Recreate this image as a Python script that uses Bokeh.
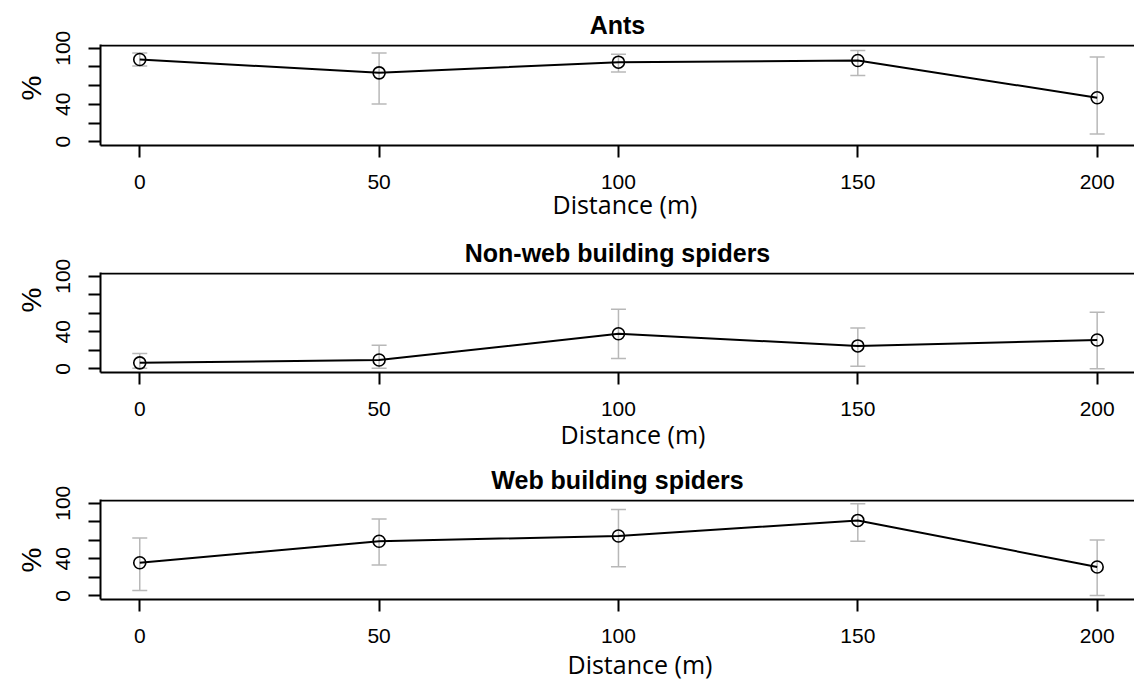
from bokeh.plotting import figure
from bokeh.models import ColumnDataSource, Whisker, TeeHead, FixedTicker, Title, Span
from bokeh.layouts import column
from bokeh.embed import file_html
from bokeh.resources import INLINE

# Distance from edge (m)
distance = [0, 50, 100, 150, 200]

# Ants (% of samples), mean with interval bounds
ants_mean = [88.0, 73.7, 85.1, 86.9, 47.1]
ants_upper = [95.0, 95.0, 93.6, 97.6, 90.7]
ants_lower = [81.0, 40.4, 74.5, 70.9, 8.2]

# Non-web building spiders
nonweb_mean = [6.4, 9.5, 37.8, 24.7, 31.1]
nonweb_upper = [16.6, 25.4, 64.3, 44.1, 61.1]
nonweb_lower = [0.7, 0.6, 11.2, 2.8, 0.0]

# Web building spiders
web_mean = [35.7, 58.9, 64.6, 81.4, 31.1]
web_upper = [62.5, 82.9, 93.1, 99.4, 60.3]
web_lower = [5.7, 33.2, 31.4, 58.9, 0.3]

titles = ["Ants", "Non-web building spiders", "Web building spiders"]
y_ticks = [0, 20, 40, 60, 80, 100]
x_ticks = [0, 50, 100, 150, 200]

W = 1134
FRAME_LEFT = 100
X_START, X_END = -8.2, 207.8
Y_START, Y_END = -4.0, 104.0

ARIAL = "Liberation Sans"
BODY = "Open Sans"

# panel geometry: figure height, top/bottom borders,
# offset of "%" from the frame bottom, offset of "Distance (m)" from the frame left
panels = [
    dict(h=228, top=44, bottom=83, pct_off=45, dist_off=452, dist_gap=-13),
    dict(h=227, top=44, bottom=83, pct_off=60, dist_off=460, dist_gap=-7),
    dict(h=232, top=44, bottom=88, pct_off=27, dist_off=467, dist_gap=-2),
]
series = [
    (ants_mean, ants_upper, ants_lower),
    (nonweb_mean, nonweb_upper, nonweb_lower),
    (web_mean, web_upper, web_lower),
]

figs = []
for title, (mean, upper, lower), g in zip(titles, series, panels):
    frame_h = g["h"] - g["top"] - g["bottom"]
    p = figure(width=W, height=g["h"], x_range=(X_START, X_END), y_range=(Y_START, Y_END),
               output_backend="svg", toolbar_location=None,
               min_border_left=FRAME_LEFT, min_border_right=0,
               min_border_top=g["top"], min_border_bottom=g["bottom"])
    p.outline_line_color = None
    p.background_fill_color = "white"
    p.border_fill_color = "white"
    p.grid.visible = False

    for ax in (p.xaxis[0], p.yaxis[0]):
        ax.axis_line_width = 2
        ax.axis_line_color = "black"
        ax.major_tick_line_width = 2
        ax.major_tick_line_color = "black"
        ax.major_tick_out = 12
        ax.major_tick_in = 0
        ax.minor_tick_line_color = None
        ax.minor_tick_out = 0
        ax.major_label_text_font = ARIAL
        ax.major_label_text_font_size = "21px"
        ax.major_label_text_color = "black"

    p.xaxis.ticker = FixedTicker(ticks=x_ticks)
    p.xaxis.major_label_standoff = 17
    p.yaxis.ticker = FixedTicker(ticks=y_ticks)
    p.yaxis.major_label_overrides = {20: "", 60: "", 80: ""}
    p.yaxis.major_label_orientation = "vertical"
    p.yaxis.major_label_standoff = 18

    # top edge of the box, kept one pixel inside the frame
    p.add_layout(Span(location=Y_END - (Y_END - Y_START) / frame_h, dimension="width",
                      line_color="black", line_width=2))

    src = ColumnDataSource(dict(x=distance, mean=mean, upper=upper, lower=lower))
    grey = "#b8b8b8"
    p.add_layout(Whisker(base="x", upper="upper", lower="lower", source=src,
                         line_color=grey, line_width=1.5,
                         upper_head=TeeHead(size=15, line_color=grey, line_width=1.5),
                         lower_head=TeeHead(size=15, line_color=grey, line_width=1.5)))
    p.line("x", "mean", source=src, line_color="black", line_width=2)
    p.scatter("x", "mean", source=src, marker="circle", size=12,
              fill_color=None, line_color="black", line_width=1.6)

    p.add_layout(Title(text=title, align="center", text_font=ARIAL, text_font_style="bold",
                       text_font_size="25px", text_color="black", standoff=11), "above")
    p.add_layout(Title(text="Distance (m)", align="left", offset=g["dist_off"],
                       text_font=BODY, text_font_style="normal", text_font_size="25px",
                       text_color="black", standoff=g["dist_gap"]), "below")
    p.add_layout(Title(text="%", align="left", offset=g["pct_off"],
                       text_font=ARIAL, text_font_style="normal", text_font_size="28px",
                       text_color="black", standoff=14), "left")
    figs.append(p)

layout = column(*figs, spacing=0)
open("out.html", "w").write(file_html(layout, INLINE))
